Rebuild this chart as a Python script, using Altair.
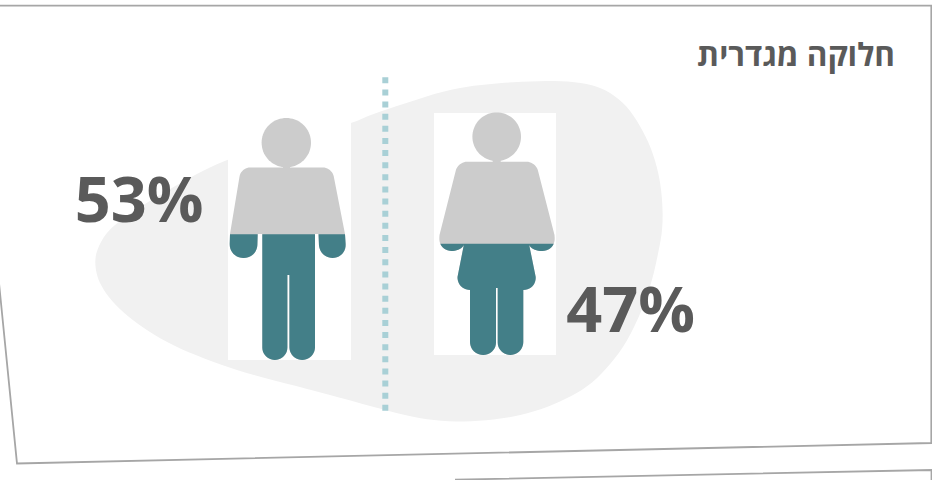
import math

import altair as alt

WIDTH, HEIGHT = 932, 480

# Shares shown by the two figures
shares = [53, 47]
share_x = [203.5, 695]
share_y = [222, 332]
title_text = "חלוקה מגדרית"

INK = "#5a5a5a"
GREY = "#cccccc"
TEAL = "#437f88"
BLOB = "#f1f1f1"
DOTS = "#a9d0d6"
FRAME = "#a6a6a6"

# Soft backdrop shape behind the figures
blob_outline = [
    (95, 260), (97, 250), (103, 238), (110, 229), (125, 217), (143, 205), (160, 195), (177, 185), (200, 172),
    (228, 159), (290, 140), (350, 124), (370, 115), (400, 105), (440, 92), (470, 86), (500, 83), (535, 81),
    (565, 81), (590, 84), (608, 91), (625, 104), (638, 122), (650, 145), (658, 170), (662, 195), (663, 225),
    (659, 250), (651, 285), (640, 315), (625, 345), (608, 367), (590, 385), (568, 398), (545, 408), (518, 416),
    (490, 420), (460, 422), (430, 420), (405, 415), (385, 410), (345, 399), (300, 387), (265, 378), (233, 369),
    (200, 357), (170, 344), (145, 329), (125, 314), (110, 299), (100, 284), (96, 272),
]

# Outlines of the two figures: (x, y, corner radius)
man_outline = [
    (241, 167.5, 9), (332, 167.5, 9), (345, 234, 0), (346.5, 258, 14), (319.5, 258, 13), (318.5, 234, 0),
    (315, 234, 0), (315, 360, 12.8), (289.4, 360, 12.8), (289.4, 275, 0), (287.4, 275, 0), (287.4, 360, 12.5),
    (262.3, 360, 12.5), (262.3, 234, 0), (257.7, 234, 0), (257, 258, 13), (229.3, 258, 14),
    (230, 234, 0),
]
woman_outline = [
    (458, 161.7, 9), (535.7, 161.7, 9), (554.5, 235, 0), (555.5, 251, 13), (530, 251, 12), (529, 244, 0),
    (535.7, 277, 0), (536.5, 290, 13), (523.3, 290, 0), (523.3, 355, 13), (497.7, 355, 12.5), (497.7, 288, 0),
    (496, 288, 0), (496, 355, 12.5), (470, 355, 13), (470, 290, 0), (457, 290, 13), (457.5, 277, 0),
    (464, 244, 0), (463, 251, 12), (438.5, 251, 13), (439.5, 235, 0),
]
man_neck = [(283, 165), (290, 165), (290, 170), (283, 170)]
woman_neck = [(492.7, 159), (500.7, 159), (500.7, 164), (492.7, 164)]
heads = [(286.3, 142.7, 24.7), (496.7, 136.7, 24.3)]

# White panels the figures sit on
panels = [(228, 351, 118, 360), (434, 556, 113, 355)]
# Level the fill is measured from, and the pixel span of 100 %
fill_base = [362.5, 357.5]
FILL_SPAN = 242

# Divider and page frames
divider_x = 385.3
divider_y = (77.3, 412)
frame_paths = {
    "card": [(0, 5.7), (931.3, 5.7), (931.3, 443), (17, 463.5), (-1, 283)],
    "next_card": [(455, 479.7), (931.5, 470), (931.5, 481)],
}


def smoothed(poly, rounds=2):
    """Chaikin corner cutting for a closed polygon."""
    for _ in range(rounds):
        out = []
        for i, (x, y) in enumerate(poly):
            px, py = poly[i - 1]
            out.append((0.75 * px + 0.25 * x, 0.75 * py + 0.25 * y))
            out.append((0.25 * px + 0.75 * x, 0.25 * py + 0.75 * y))
        poly = out
    return poly


def rounded(outline, samples=10):
    """Turn (x, y, radius) corners into a polygon with cubic-rounded corners."""
    out = []
    n = len(outline)
    for i, (x, y, r) in enumerate(outline):
        if r == 0:
            out.append((x, y))
            continue
        px, py, _ = outline[i - 1]
        nx, ny, _ = outline[(i + 1) % n]
        d1 = ((px - x) ** 2 + (py - y) ** 2) ** 0.5
        d2 = ((nx - x) ** 2 + (ny - y) ** 2) ** 0.5
        a = (x + (px - x) * min(r, d1) / d1, y + (py - y) * min(r, d1) / d1)
        b = (x + (nx - x) * min(r, d2) / d2, y + (ny - y) * min(r, d2) / d2)
        k = 0.55
        c1 = (a[0] + k * (x - a[0]), a[1] + k * (y - a[1]))
        c2 = (b[0] + k * (x - b[0]), b[1] + k * (y - b[1]))
        for s in range(samples + 1):
            t = s / samples
            u = 1 - t
            out.append((
                u**3 * a[0] + 3 * u * u * t * c1[0] + 3 * u * t * t * c2[0] + t**3 * b[0],
                u**3 * a[1] + 3 * u * u * t * c1[1] + 3 * u * t * t * c2[1] + t**3 * b[1],
            ))
    return out


def circle(cx, cy, r, segments=72):
    return [(cx + r * math.cos(2 * math.pi * i / segments), cy + r * math.sin(2 * math.pi * i / segments))
            for i in range(segments)]


def below(poly, level):
    """Keep the part of a polygon lying under a horizontal level."""
    out = []
    for i, (x, y) in enumerate(poly):
        x0, y0 = poly[i - 1]
        if (y0 >= level) != (y >= level):
            t = (level - y0) / (y - y0)
            out.append((x0 + t * (x - x0), level))
        if y >= level:
            out.append((x, y))
    return out


def feature(poly):
    ring = [list(p) for p in poly]
    ring.append(ring[0])
    return {"type": "Feature", "properties": {}, "geometry": {"type": "Polygon", "coordinates": [ring]}}


def shapes(polys, fill):
    data = alt.InlineData(values=[feature(p) for p in polys], format=alt.DataFormat(type="json"))
    return alt.Chart(data).mark_geoshape(fill=fill, strokeWidth=0, stroke="transparent").project(
        type="identity", scale=1, translate=[0, 0]
    )


X = alt.X("x:Q", axis=None, scale=alt.Scale(domain=[0, WIDTH], range=[0, WIDTH], nice=False, zero=False))
Y = alt.Y("y:Q", axis=None, scale=alt.Scale(domain=[0, HEIGHT], range=[0, HEIGHT], nice=False, zero=False))

man_poly = rounded(man_outline)
woman_poly = rounded(woman_outline)
grey_parts = [circle(*heads[0]), circle(*heads[1]), man_neck, woman_neck, man_poly, woman_poly]

cuts = [base - share / 100 * FILL_SPAN for base, share in zip(fill_base, shares)]
teal_parts = [below(man_poly, cuts[0]), below(woman_poly, cuts[1])]

panel_polys = [[(x0, y0), (x1, y0), (x1, y1), (x0, y1)] for x0, x1, y0, y1 in panels]

frame_rows = [
    {"path": name, "i": i, "x": x, "y": y}
    for name, pts in frame_paths.items()
    for i, (x, y) in enumerate(pts)
]
frames = alt.Chart(alt.Data(values=frame_rows)).mark_line(color=FRAME, strokeWidth=1.8, clip=False).encode(
    x=X, y=Y, detail="path:N", order="i:Q"
)

divider = alt.Chart(alt.Data(values=[{"x": divider_x, "y": divider_y[0], "y2": divider_y[1]}])).mark_rule(
    color=DOTS, strokeWidth=6, strokeDash=[6, 6.13]
).encode(x=X, y=Y, y2="y2:Q")

share_rows = [{"x": x, "y": y, "label": f"{v}%"} for x, y, v in zip(share_x, share_y, shares)]
share_text = alt.Chart(alt.Data(values=share_rows)).mark_text(
    font="Open Sans", fontWeight="bold", fontSize=63, color=INK, align="right", baseline="alphabetic"
).encode(x=X, y=Y, text="label:N")

title = alt.Chart(alt.Data(values=[{"x": 895, "y": 66, "label": title_text}])).mark_text(
    font="Open Sans", fontWeight="bold", fontSize=31.5, color=INK, align="right", baseline="alphabetic"
).encode(x=X, y=Y, text="label:N")

chart = alt.layer(
    shapes([smoothed(blob_outline)], BLOB),
    shapes(panel_polys, "#ffffff"),
    shapes(grey_parts, GREY),
    shapes(teal_parts, TEAL),
    divider,
    frames,
    share_text,
    title,
).properties(
    width=WIDTH, height=HEIGHT, padding=0, background="#ffffff",
    autosize=alt.AutoSizeParams(type="none"),
).configure_view(stroke=None)

chart.save("out.html", embed_options={"renderer": "svg", "actions": False})
